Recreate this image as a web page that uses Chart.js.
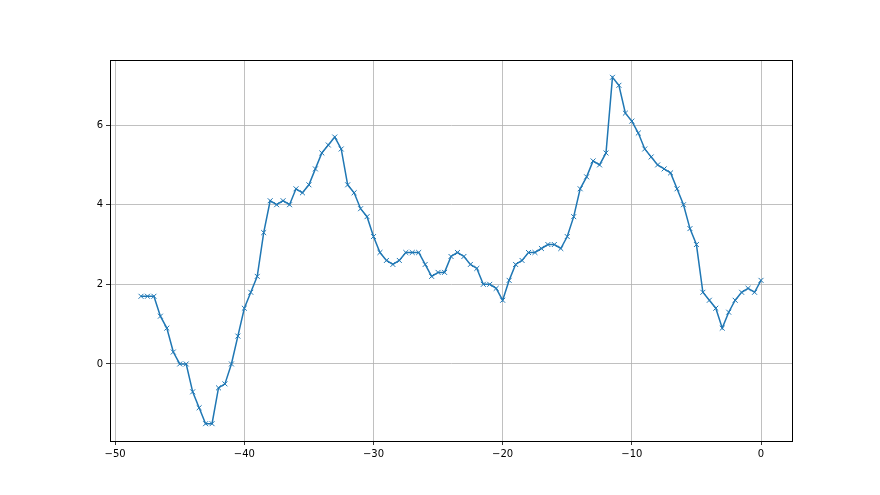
<!DOCTYPE html>
<html>
<head>
<meta charset="utf-8">
<script src="https://cdn.jsdelivr.net/npm/chart.js@4"></script>
<style>
  html, body { margin: 0; padding: 0; background: #fff; }
  #wrap { width: 880px; height: 495px; }
</style>
</head>
<body>
<div id="wrap"><canvas id="chart"></canvas></div>
<script>
// x positions, step 0.5 from -48 to 0
var xValues = [
  -48, -47.5, -47, -46.5, -46, -45.5, -45, -44.5, -44, -43.5,
  -43, -42.5, -42, -41.5, -41, -40.5, -40, -39.5, -39, -38.5,
  -38, -37.5, -37, -36.5, -36, -35.5, -35, -34.5, -34, -33.5,
  -33, -32.5, -32, -31.5, -31, -30.5, -30, -29.5, -29, -28.5,
  -28, -27.5, -27, -26.5, -26, -25.5, -25, -24.5, -24, -23.5,
  -23, -22.5, -22, -21.5, -21, -20.5, -20, -19.5, -19, -18.5,
  -18, -17.5, -17, -16.5, -16, -15.5, -15, -14.5, -14, -13.5,
  -13, -12.5, -12, -11.5, -11, -10.5, -10, -9.5, -9, -8.5,
  -8, -7.5, -7, -6.5, -6, -5.5, -5, -4.5, -4, -3.5,
  -3, -2.5, -2, -1.5, -1, -0.5, 0
];
var yValues = [
  1.7, 1.7, 1.7, 1.2, 0.9, 0.3, 0.0, 0.0, -0.7, -1.1,
  -1.5, -1.5, -0.6, -0.5, 0.0, 0.7, 1.4, 1.8, 2.2, 3.3,
  4.1, 4.0, 4.1, 4.0, 4.4, 4.3, 4.5, 4.9, 5.3, 5.5,
  5.7, 5.4, 4.5, 4.3, 3.9, 3.7, 3.2, 2.8, 2.6, 2.5,
  2.6, 2.8, 2.8, 2.8, 2.5, 2.2, 2.3, 2.3, 2.7, 2.8,
  2.7, 2.5, 2.4, 2.0, 2.0, 1.9, 1.6, 2.1, 2.5, 2.6,
  2.8, 2.8, 2.9, 3.0, 3.0, 2.9, 3.2, 3.7, 4.4, 4.7,
  5.1, 5.0, 5.3, 7.2, 7.0, 6.3, 6.1, 5.8, 5.4, 5.2,
  5.0, 4.9, 4.8, 4.4, 4.0, 3.4, 3.0, 1.8, 1.6, 1.4,
  0.9, 1.3, 1.6, 1.8, 1.9, 1.8, 2.1
];
var xTicks = [-50, -40, -30, -20, -10, 0];
var yTicks = [0, 2, 4, 6];

var points = [];
for (var i = 0; i < xValues.length; i++) {
  points.push({ x: xValues[i], y: yValues[i] });
}

// box around the plot area, like the matplotlib frame
var frame = {
  id: 'frame',
  afterDraw: function (chart) {
    var a = chart.chartArea, ctx = chart.ctx;
    ctx.save();
    ctx.strokeStyle = '#000';
    ctx.lineWidth = 1;
    ctx.strokeRect(Math.round(a.left) + 0.5, Math.round(a.top) + 0.5,
      Math.round(a.right - a.left), Math.round(a.bottom - a.top));
    ctx.restore();
  }
};

function minus(v) {
  return String(v).replace('-', '\u2212');
}

Chart.defaults.font.family = 'DejaVu Sans';
Chart.defaults.font.size = 10;
Chart.defaults.color = '#000';

new Chart(document.getElementById('chart'), {
  type: 'scatter',
  data: {
    datasets: [{
      data: points,
      showLine: true,
      tension: 0,
      borderColor: '#1f77b4',
      borderWidth: 1.5,
      pointStyle: 'crossRot',
      pointRadius: 3.5,
      pointBorderWidth: 1,
      pointBorderColor: '#1f77b4',
      pointBackgroundColor: '#1f77b4'
    }]
  },
  options: {
    responsive: true,
    maintainAspectRatio: false,
    animation: false,
    layout: { padding: { left: 0, top: 60, right: 88, bottom: 0 } },
    plugins: { legend: { display: false }, tooltip: { enabled: false } },
    scales: {
      x: {
        type: 'linear',
        min: -50.4,
        max: 2.4,
        afterBuildTicks: function (scale) {
          scale.ticks = xTicks.map(function (v) { return { value: v }; });
        },
        afterFit: function (scale) { scale.height = 54; },
        grid: { color: '#b0b0b0', lineWidth: 0.8, tickColor: '#000', tickLength: 4 },
        border: { color: '#000' },
        ticks: { padding: 3, maxRotation: 0, callback: function (v) { return minus(v); } }
      },
      y: {
        type: 'linear',
        min: -1.935,
        max: 7.635,
        afterBuildTicks: function (scale) {
          scale.ticks = yTicks.map(function (v) { return { value: v }; });
        },
        afterFit: function (scale) { scale.width = 110; },
        grid: { color: '#b0b0b0', lineWidth: 0.8, tickColor: '#000', tickLength: 4 },
        border: { color: '#000' },
        ticks: { padding: 3, callback: function (v) { return minus(v); } }
      }
    }
  },
  plugins: [frame]
});
</script>
</body>
</html>
